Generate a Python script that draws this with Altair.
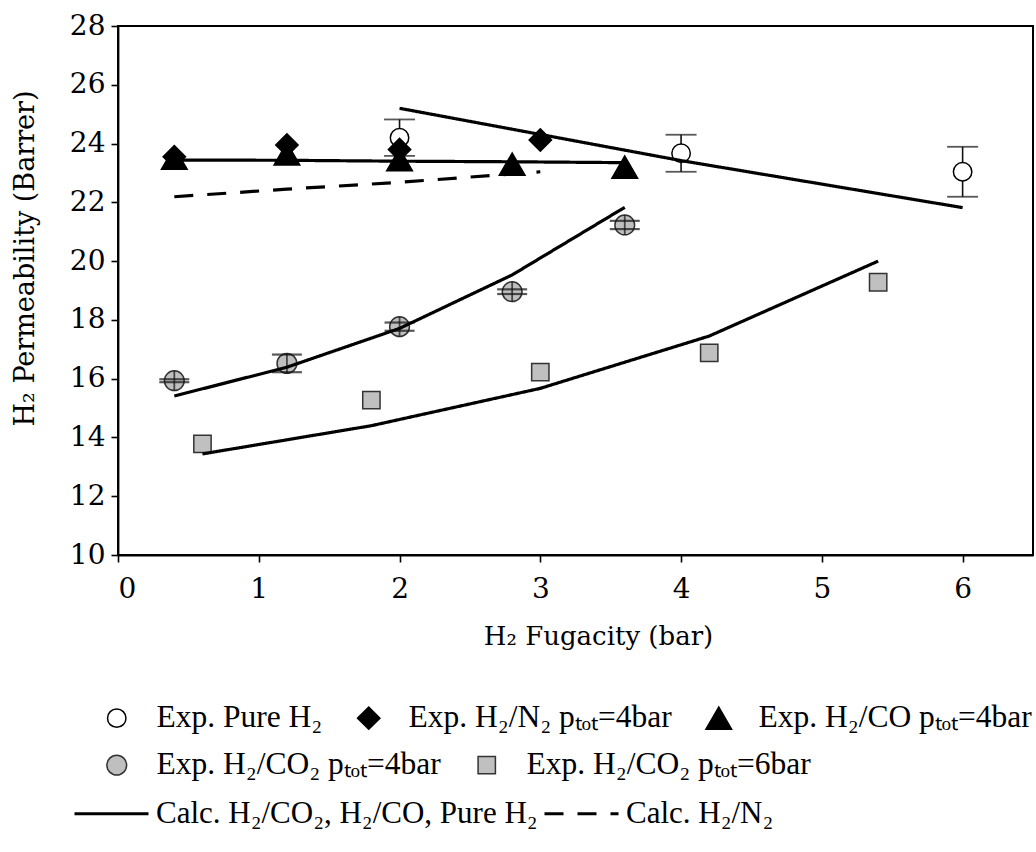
import altair as alt
import pandas as pd

# Experimental H2 permeability (Barrer) against H2 fugacity (bar)
pure_x = [2.0, 4.0, 6.0]
pure_y = [24.2, 23.67, 23.04]
pure_err = [0.62, 0.63, 0.85]

n2_x = [0.4, 1.2, 2.0, 3.0]
n2_y = [23.55, 23.95, 23.8, 24.12]

co_x = [0.4, 1.2, 2.0, 2.8, 3.6]
co_y = [23.5, 23.65, 23.45, 23.3, 23.2]

co2_4_x = [0.4, 1.2, 2.0, 2.8, 3.6]
co2_4_y = [15.93, 16.52, 17.77, 18.96, 21.23]
co2_4_err = [0.05, 0.3, 0.14, 0.08, 0.14]

co2_6_x = [0.6, 1.8, 3.0, 4.2, 5.4]
co2_6_y = [13.78, 15.27, 16.22, 16.88, 19.28]

# Model predictions
calc_pure_x = [2.0, 4.0, 6.0]
calc_pure_y = [25.2, 23.42, 21.82]
calc_co_x = [0.4, 1.2, 2.0, 2.8, 3.6]
calc_co_y = [23.44, 23.43, 23.40, 23.38, 23.35]
calc_co2_4_x = [0.4, 1.2, 2.0, 2.8, 3.6]
calc_co2_4_y = [15.41, 16.39, 17.71, 19.53, 21.83]
calc_co2_6_x = [0.6, 1.8, 3.0, 4.2, 5.4]
calc_co2_6_y = [13.44, 14.40, 15.67, 17.45, 20.0]
calc_n2_x = [0.4, 1.2, 2.0, 3.0]
calc_n2_y = [22.19, 22.45, 22.68, 23.04]

x_ticks = [0, 1, 2, 3, 4, 5, 6]
y_ticks = [10, 12, 14, 16, 18, 20, 22, 24, 26, 28]

L_PURE = "Exp. Pure H\u2082"
L_N2 = "Exp. H\u2082/N\u2082 p\u209c\u2092\u209c=4bar"
L_CO = "Exp. H\u2082/CO p\u209c\u2092\u209c=4bar"
L_CO2_4 = "Exp. H\u2082/CO\u2082 p\u209c\u2092\u209c=4bar"
L_CO2_6 = "Exp. H\u2082/CO\u2082 p\u209c\u2092\u209c=6bar"
L_CALC = "Calc. H\u2082/CO\u2082, H\u2082/CO, Pure H\u2082"
L_CALC_N2 = "Calc. H\u2082/N\u2082"

row1 = [L_PURE, L_N2, L_CO]
row2 = [L_CO2_4, L_CO2_6]
row3 = [L_CALC, L_CALC_N2]


def frame(series, xs, ys, **extra):
    d = pd.DataFrame({"series": series, "x": xs, "y": ys})
    for k, v in extra.items():
        d[k] = v
    return d


# points drawn in this order: open circles, triangles, diamonds on top
pts1 = pd.concat([
    frame(L_PURE, pure_x, pure_y),
    frame(L_CO, co_x, co_y),
    frame(L_N2, n2_x, n2_y),
], ignore_index=True)

pts2 = pd.concat([
    frame(L_CO2_4, co2_4_x, co2_4_y),
    frame(L_CO2_6, co2_6_x, co2_6_y),
], ignore_index=True)

pure_err_df = frame(L_PURE, pure_x, pure_y, err=pure_err)
co2_err_df = frame(L_CO2_4, co2_4_x, co2_4_y, err=co2_4_err)

curves = pd.concat([
    frame(L_CALC, calc_pure_x, calc_pure_y, curve="pure"),
    frame(L_CALC, calc_co_x, calc_co_y, curve="co"),
    frame(L_CALC, calc_co2_4_x, calc_co2_4_y, curve="co2_4"),
    frame(L_CALC, calc_co2_6_x, calc_co2_6_y, curve="co2_6"),
    frame(L_CALC_N2, calc_n2_x, calc_n2_y, curve="n2"),
], ignore_index=True)

X_SCALE = alt.Scale(domain=[0, 6.5], nice=False, zero=False)
Y_SCALE = alt.Scale(domain=[10, 28], nice=False, zero=False)

X = alt.X("x:Q", scale=X_SCALE,
          axis=alt.Axis(values=x_ticks, format="d", title="H\u2082 Fugacity (bar)",
                        titleX=480, titleY=81, titleBaseline="middle"))
Y = alt.Y("y:Q", scale=Y_SCALE,
          axis=alt.Axis(values=y_ticks, format="d", title="H\u2082 Permeability (Barrer)",
                        titleX=-93, titleY=232, titleAngle=-90,
                        titleBaseline="middle", titleAlign="center"))

LEG_FONT = "Liberation Serif"
LEG_SIZE = 31.5


def point_legend(lx, ly, cols):
    return alt.Legend(title=None, orient="none", legendX=lx, legendY=ly,
                      direction="horizontal", columns=cols,
                      labelFont=LEG_FONT, labelFontSize=LEG_SIZE, labelColor="black",
                      labelOffset=24, columnPadding=30, labelLimit=1000,
                      symbolStrokeWidth=1.5, gridAlign="each")


leg1 = point_legend(-17, 676, 3)
leg2 = point_legend(-17, 723, 2)
leg3 = alt.Legend(title=None, orient="none", legendX=-45, legendY=749,
                  direction="horizontal", columns=2,
                  labelFont=LEG_FONT, labelFontSize=31, labelColor="black",
                  labelOffset=6, columnPadding=0, labelLimit=1000,
                  symbolType="stroke", symbolSize=5476, symbolStrokeWidth=3,
                  symbolStrokeColor="black", gridAlign="each")

# error bars of pure H2
pure_stem = alt.Chart(pure_err_df).transform_calculate(
    lo="datum.y - datum.err", hi="datum.y + datum.err"
).mark_rule(color="#111", strokeWidth=1.6).encode(
    x=X, y=alt.Y("lo:Q", scale=Y_SCALE), y2="hi:Q")
pure_caps = alt.Chart(pure_err_df).transform_calculate(
    lo="datum.y - datum.err", hi="datum.y + datum.err"
).transform_fold(["lo", "hi"], as_=["end", "yy"]).mark_tick(
    orient="horizontal", size=31, thickness=1.8, color="#111"
).encode(x=X, y=alt.Y("yy:Q", scale=Y_SCALE))

points1 = alt.Chart(pts1).mark_point(filled=True, opacity=1, strokeWidth=1.5).encode(
    x=X, y=Y,
    shape=alt.Shape("series:N", scale=alt.Scale(domain=row1, range=["circle", "diamond", "triangle-up"]), legend=leg1),
    fill=alt.Fill("series:N", scale=alt.Scale(domain=row1, range=["white", "black", "black"]), legend=leg1),
    stroke=alt.Stroke("series:N", scale=alt.Scale(domain=row1, range=["black", "black", "black"]), legend=leg1),
    size=alt.Size("series:N", scale=alt.Scale(domain=row1, range=[340, 660, 640]), legend=leg1),
)

points2 = alt.Chart(pts2).mark_point(filled=True, opacity=1, strokeWidth=1.5).encode(
    x=X, y=Y,
    shape=alt.Shape("series:N", scale=alt.Scale(domain=row2, range=["circle", "square"]), legend=leg2),
    fill=alt.Fill("series:N", scale=alt.Scale(domain=row2, range=["#bfbfbf", "#c0c0c0"]), legend=leg2),
    stroke=alt.Stroke("series:N", scale=alt.Scale(domain=row2, range=["#333333", "#333333"]), legend=leg2),
    size=alt.Size("series:N", scale=alt.Scale(domain=row2, range=[390, 300]), legend=leg2),
)

# error bars of the H2/CO2 4 bar series, drawn over the markers
co2_caps = alt.Chart(co2_err_df).transform_calculate(
    lo="datum.y - datum.err", hi="datum.y + datum.err"
).transform_fold(["lo", "hi"], as_=["end", "yy"]).mark_tick(
    orient="horizontal", size=30, thickness=2.2, color="#111"
).encode(x=X, y=alt.Y("yy:Q", scale=Y_SCALE))
co2_stem = alt.Chart(co2_err_df).mark_tick(
    orient="vertical", size=20, thickness=1.8, color="#111"
).encode(x=X, y=Y)

lines = alt.Chart(curves).mark_line(color="black", strokeWidth=3.2).encode(
    x=X, y=Y, detail="curve:N",
    strokeDash=alt.StrokeDash("series:N", scale=alt.Scale(domain=row3, range=[[1, 0], [19, 14]]), legend=leg3),
)

chart = alt.layer(
    pure_stem, pure_caps, points1, points2, co2_caps, co2_stem, lines
).resolve_scale(
    shape="independent", fill="independent", stroke="independent",
    size="independent", strokeDash="independent"
).properties(
    width=915, height=529,
    padding={"left": 118, "top": 26, "right": 3, "bottom": 297},
    autosize=alt.AutoSizeParams(type="none"),
    background="white",
).configure_view(
    stroke="black", strokeWidth=2
).configure_axis(
    grid=False, domainColor="black", domainWidth=1.8, tickColor="black",
    tickWidth=1.6, tickSize=7, labelFont="DejaVu Serif", labelFontSize=28,
    labelColor="black", titleFont="DejaVu Serif",
    titleFontWeight="normal", titleColor="black",
).configure_axisX(
    labelPadding=13, titleFontSize=26
).configure_axisY(
    labelPadding=6, titleFontSize=27
)

chart.save("out.html", embed_options={"renderer": "svg", "actions": False})
